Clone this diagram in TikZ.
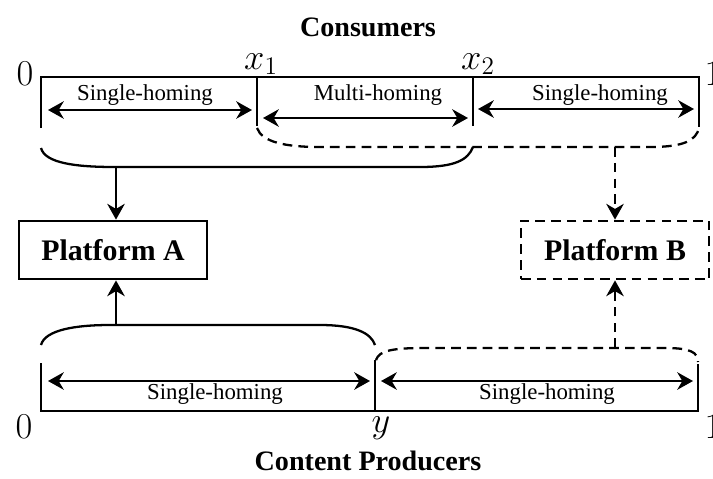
\documentclass[tikz,border=0pt]{standalone}
\usepackage[no-math]{fontspec}
\setmainfont{Liberation Serif}
\usetikzlibrary{arrows.meta}

\begin{document}
\begin{tikzpicture}[x=0.02cm, y=-0.02cm,
    bar/.style={line width=1.4pt},
    brace/.style={line width=1.3pt},
    dsh/.style={dash pattern=on 5.5pt off 3.5pt},
    span/.style={{Stealth[length=9pt,width=10pt]}-{Stealth[length=9pt,width=10pt]}, line width=1pt},
    feed/.style={-{Stealth[length=9pt,width=10pt]}, line width=1.2pt},
    seg/.style={font=\fontsize{13}{15}\selectfont, inner sep=0pt},
    ticklab/.style={font=\fontsize{20}{24}\selectfont, inner sep=0pt},
    title/.style={font=\fontsize{16}{19}\selectfont\bfseries, inner sep=0pt},
    plat/.style={draw, line width=1.1pt, minimum width=107pt, minimum height=33.5pt,
      inner sep=0pt, font=\fontsize{17}{20}\selectfont\bfseries}]
  \useasboundingbox (0,0) rectangle (713,478);

  % consumer side
  \node[title] (consumers) at (368,27) {Consumers};
  \coordinate (c0) at (41,77);
  \coordinate (cx1) at (257,77);
  \coordinate (cx2) at (473,77);
  \coordinate (c1) at (699,77);
  \draw[bar] (41,128) -- (c0) -- (c1) -- (699,127);
  \draw[bar] (cx1) -- (257,126);
  \draw[bar] (cx2) -- (473,126);
  \node[ticklab] (c0lab) at (25,74) {$0$};
  \node[ticklab] (cx1lab) at (261,64) {$x_1$};
  \node[ticklab] (cx2lab) at (478,64) {$x_2$};
  \node[ticklab] (c1lab) at (713,74) {$1$};

  \coordinate (ca) at (48,110);  \coordinate (cb) at (252,110);
  \coordinate (cc) at (263,118); \coordinate (cd) at (468,118);
  \coordinate (ce) at (478,109); \coordinate (cf) at (694,109);
  \draw[span] (ca) -- (cb);
  \draw[span] (cc) -- (cd);
  \draw[span] (ce) -- (cf);
  \node[seg] (csingA) at (145,95) {Single-homing};
  \node[seg] (cmulti) at (378,95) {Multi-homing};
  \node[seg] (csingB) at (600,95) {Single-homing};

  % braces under the consumer line
  \draw[brace] (41,148) .. controls (45,163) and (75,167) .. (115,167)
    -- (420,167) .. controls (455,167) and (468,160) .. (473,147);
  \draw[brace, dsh] (257,128) .. controls (262,142) and (285,147) .. (320,147)
    -- (650,147) .. controls (685,147) and (696,140) .. (699,128);
  \coordinate (bA) at (116,167);
  \coordinate (bB) at (615,147);

  % platforms
  \node[plat] (platA) at (113,250) {Platform A};
  \node[plat, dsh] (platB) at (615,250) {Platform B};
  \draw[feed] (bA) -- (bA |- platA.north);
  \draw[feed, dsh] (bB) -- (platB.north);

  % braces over the producer line
  \coordinate (pA) at (116,325);
  \coordinate (pB) at (615,348);
  \draw[brace] (41,345) .. controls (45,330) and (75,325) .. (110,325)
    -- (320,325) .. controls (355,325) and (371,333) .. (375,345);
  \draw[brace, dsh] (376,360) .. controls (379,350) and (395,348) .. (425,348)
    -- (665,348) .. controls (690,348) and (698,352) .. (698,362);
  \draw[feed] (pA) -- (pA |- platA.south);
  \draw[feed, dsh] (pB) -- (platB.south);

  % producer side
  \coordinate (p0) at (41,411);
  \coordinate (py) at (375,411);
  \coordinate (p1) at (698,411);
  \draw[bar] (41,363) -- (p0) -- (p1) -- (698,364);
  \draw[bar] (py) -- (375,360);
  \node[ticklab] (p0lab) at (24,427) {$0$};
  \node[ticklab, anchor=north] (pylab) at (381,416) {$y$};
  \node[ticklab] (p1lab) at (713,427) {$1$};

  \coordinate (pa) at (48,381);  \coordinate (pb) at (370,381);
  \coordinate (pc) at (381,381); \coordinate (pd) at (693,381);
  \draw[span] (pa) -- (pb);
  \draw[span] (pc) -- (pd);
  \node[seg] (psingA) at (215,394) {Single-homing};
  \node[seg] (psingB) at (547,394) {Single-homing};
  \node[title] (producers) at (368,461) {Content Producers};
\end{tikzpicture}
\end{document}
